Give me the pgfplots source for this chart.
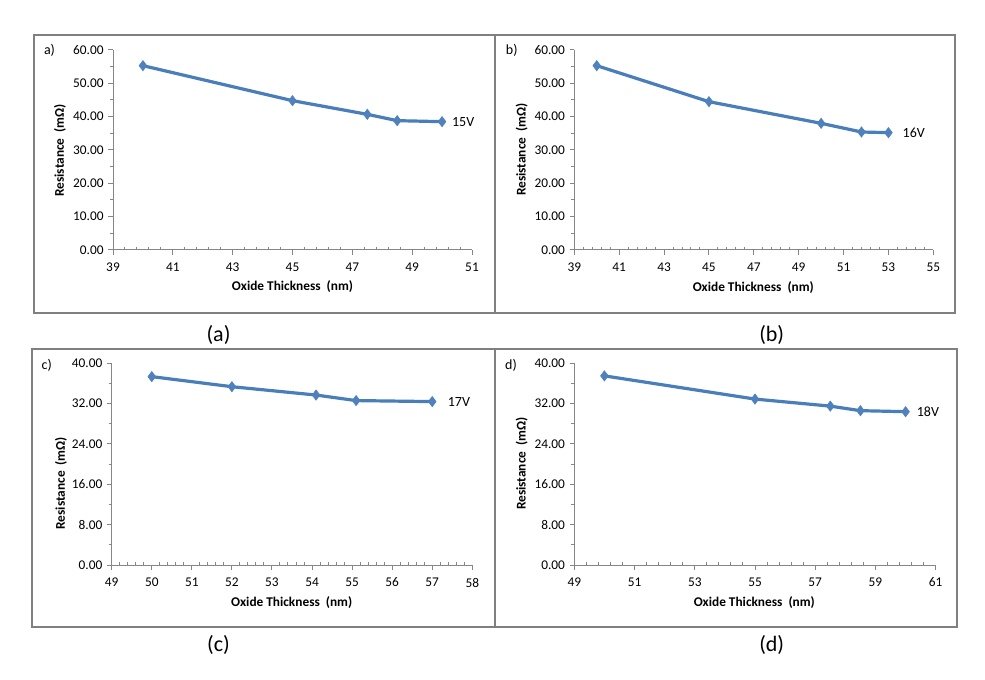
\documentclass[border=0pt]{standalone}
\usepackage{pgfplots}
\pgfplotsset{compat=1.18}
\usepackage{fontspec}
\setmainfont{Carlito}
\definecolor{serblue}{HTML}{4A7EBB}
\definecolor{mkblue}{HTML}{4F81BD}
\definecolor{framegray}{HTML}{808080}
\definecolor{axgray}{HTML}{868686}
\pgfplotsset{
  panel/.style={
    scale only axis,
    axis x line*=bottom, axis y line*=left,
    axis line style={axgray, line width=0.75pt, -},
    every tick/.style={axgray, line width=0.75pt},
    major tick length=3.5pt,
    minor tick length=2.2pt,
    tick align=outside,
    minor x tick style={yshift=2.2pt},
    every tick label/.append style={font=\fontsize{10}{12}\selectfont, text=black},
    /pgf/number format/assume math mode=true,
    yticklabel style={/pgf/number format/.cd, fixed, fixed zerofill, precision=2, assume math mode=true},
    xticklabel style={yshift=-2.7pt, /pgf/number format/.cd, fixed, precision=0, assume math mode=true},
    clip=false,
  },
  ser/.style={serblue, line width=2.4pt, mark=diamond*, mark size=3.8pt,
    mark options={solid, fill=mkblue, draw=mkblue, line width=0.5pt}},
}
\begin{document}
\begin{tikzpicture}[x=0.75pt,y=-0.75pt]
\path[use as bounding box] (0,0) rectangle (985,680);
\coordinate (pa) at (113,250);
\coordinate (pb) at (574.3,250);
\coordinate (pc) at (111.7,565);
\coordinate (pd) at (574.3,565);
% frames
\draw[framegray, line width=1.5pt] (34,35) rectangle (495,313);
\draw[framegray, line width=1.5pt] (495,35) rectangle (955,313);
\draw[framegray, line width=1.5pt] (32,349) rectangle (495,627);
\draw[framegray, line width=1.5pt] (495,349) rectangle (957,627);
% captions
\node[font=\fontsize{16.5}{19}\selectfont] at (218.5,335) {(a)};
\node[font=\fontsize{16.5}{19}\selectfont] at (771.7,335) {(b)};
\node[font=\fontsize{16.5}{19}\selectfont] at (218.5,645) {(c)};
\node[font=\fontsize{16.5}{19}\selectfont] at (771.7,645) {(d)};
% panel letters
\node[font=\fontsize{10.5}{12}\selectfont] at (49.5,50) {a)};
\node[font=\fontsize{10.5}{12}\selectfont] at (511.7,50) {b)};
\node[font=\fontsize{10.5}{12}\selectfont] at (46.7,365) {c)};
\node[font=\fontsize{10.5}{12}\selectfont] at (511,365) {d)};
% axis labels
\node[font=\bfseries\fontsize{10}{12}\selectfont] at (292.5,287) {Oxide Thickness\ \ (nm)};
\node[font=\bfseries\fontsize{10}{12}\selectfont] at (753.3,287.3) {Oxide Thickness\ \ (nm)};
\node[font=\bfseries\fontsize{10}{12}\selectfont] at (291.7,602.7) {Oxide Thickness\ \ (nm)};
\node[font=\bfseries\fontsize{10}{12}\selectfont] at (754.3,602.7) {Oxide Thickness\ \ (nm)};
\node[font=\bfseries\fontsize{10}{12}\selectfont, rotate=90] at (60,150.5) {Resistance\ \ (mΩ)};
\node[font=\bfseries\fontsize{10}{12}\selectfont, rotate=90] at (521.7,149.7) {Resistance\ \ (mΩ)};
\node[font=\bfseries\fontsize{10}{12}\selectfont, rotate=90] at (61,483.3) {Resistance\ \ (mΩ)};
\node[font=\bfseries\fontsize{10}{12}\selectfont, rotate=90] at (521.7,463.7) {Resistance\ \ (mΩ)};

% (a)
\begin{axis}[panel, at={(pa)}, anchor=south west, width=269.25pt, height=150pt,
  xmin=39, xmax=51, xtick={39,41,...,51}, minor x tick num=4,
  ymin=0, ymax=60, ytick={0,10,...,60}, minor y tick num=1]
\addplot[ser] coordinates {(40,55.3) (45,44.8) (47.5,40.7) (48.5,38.8) (50,38.5)};
\node[anchor=west, inner sep=0pt, font=\fontsize{10.5}{12}\selectfont, xshift=7.3pt] at (axis cs:50,38.5) {15V};
\end{axis}
% (b)
\begin{axis}[panel, at={(pb)}, anchor=south west, width=269.25pt, height=150pt,
  xmin=39, xmax=55, xtick={39,41,...,55}, minor x tick num=4,
  ymin=0, ymax=60, ytick={0,10,...,60}, minor y tick num=1]
\addplot[ser] coordinates {(40,55.3) (45,44.5) (50,38.0) (51.8,35.4) (53,35.2)};
\node[anchor=west, inner sep=0pt, font=\fontsize{10.5}{12}\selectfont, xshift=10.5pt] at (axis cs:53,35.2) {16V};
\end{axis}
% (c)
\begin{axis}[panel, at={(pc)}, anchor=south west, width=270.45pt, height=151.3pt,
  xmin=49, xmax=58, xtick={49,50,...,58}, minor x tick num=4,
  ymin=0, ymax=40, ytick={0,8,...,40}, minor y tick num=1]
\addplot[ser] coordinates {(50,37.35) (52,35.35) (54.1,33.7) (55.1,32.6) (57,32.4)};
\node[anchor=west, inner sep=0pt, font=\fontsize{10.5}{12}\selectfont, xshift=11.5pt] at (axis cs:57,32.4) {17V};
\end{axis}
% (d)
\begin{axis}[panel, at={(pd)}, anchor=south west, width=271.05pt, height=151.3pt,
  xmin=49, xmax=61, xtick={49,51,...,61}, minor x tick num=4,
  ymin=0, ymax=40, ytick={0,8,...,40}, minor y tick num=1]
\addplot[ser] coordinates {(50,37.5) (55,32.9) (57.5,31.5) (58.5,30.6) (60,30.4)};
\node[anchor=west, inner sep=0pt, font=\fontsize{10.5}{12}\selectfont, xshift=8.25pt] at (axis cs:60,30.4) {18V};
\end{axis}
\end{tikzpicture}
\end{document}
